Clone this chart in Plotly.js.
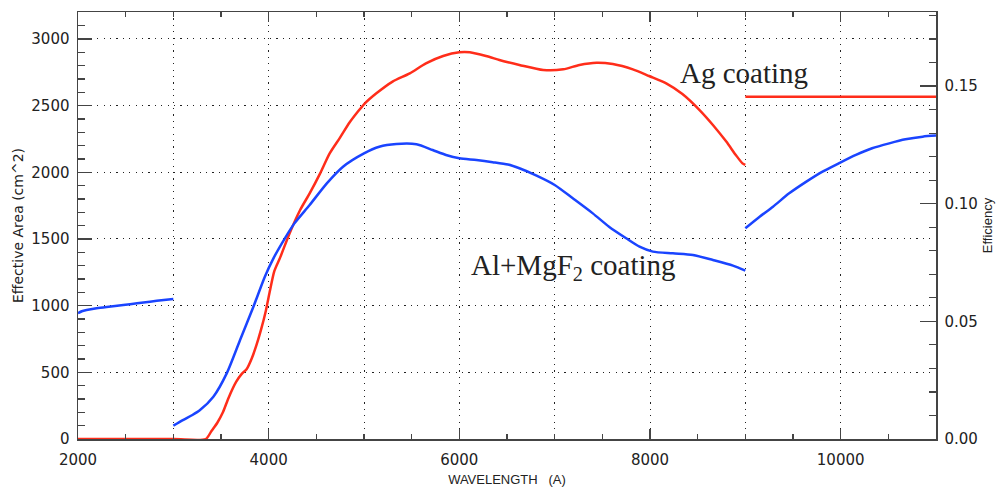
<!DOCTYPE html>
<html>
<head>
<meta charset="utf-8">
<script src="https://cdn.plot.ly/plotly-3.0.1.min.js"></script>
<style>html,body{margin:0;padding:0;background:#fff;}#chart{width:996px;height:487px;}</style>
</head>
<body>
<div id="chart"></div>
<script>
// Ag coating effective area (cm^2) vs wavelength (A); null = gap between segments
var agWave = [2000, 3000, 3340, 3400, 3460, 3520, 3580, 3660, 3720, 3770, 3820, 3870, 3920, 3970, 4010, 4060, 4120,
  4220, 4330, 4430, 4540, 4640, 4750, 4850, 4930, 5000, 5130, 5300, 5480, 5650, 5830, 6000, 6110, 6280, 6420, 6510,
  6630, 6880, 7090, 7260, 7440, 7610, 7820, 7990, 8170, 8340, 8520, 8660, 8800, 8900, 8970, 9000,
  null, 9000, 11000];
var agArea = [0, 0, 0, 60, 120, 200, 310, 430, 490, 525, 600, 700, 820, 960, 1100, 1260, 1360,
  1543, 1717, 1842, 1992, 2142, 2262, 2375, 2450, 2510, 2592, 2680, 2742, 2817, 2872, 2900, 2900, 2872, 2842, 2825,
  2805, 2767, 2772, 2805, 2822, 2812, 2772, 2722, 2667, 2587, 2467, 2355, 2230, 2130, 2067, 2055,
  null, 2567, 2567];

// Al+MgF2 coating effective area (cm^2) vs wavelength (A)
var alWave = [2000, 2040, 2090, 2195, 2300, 2475, 2620, 2755, 2900, 3000,
  null,
  3000, 3100, 3200, 3280, 3420, 3560, 3700, 3840, 3960, 4050, 4170, 4270, 4430, 4610, 4780, 5000, 5160,
  5340, 5550, 5720, 5860, 6000, 6180, 6350, 6510, 6630, 6810, 7000, 7190, 7400, 7570, 7750, 7890, 8030,
  8240, 8450, 8660, 8870, 9000,
  null,
  9000, 9150, 9290, 9460, 9640, 9810, 9980, 10160, 10330, 10510, 10680, 10860, 11000];
var alArea = [943, 958, 967, 980, 990, 1005, 1018, 1030, 1042, 1050,
  null,
  100, 142, 180, 217, 317, 492, 742, 992, 1217, 1355, 1505, 1617, 1755, 1917, 2042, 2142, 2192,
  2212, 2210, 2167, 2130, 2105, 2092, 2076, 2058, 2030, 1975, 1905, 1805, 1692, 1592, 1505, 1442, 1405,
  1392, 1380, 1342, 1300, 1262,
  null,
  1580, 1667, 1742, 1842, 1930, 2005, 2067, 2130, 2180, 2217, 2247, 2267, 2275];

var xTickVals = [2000, 4000, 6000, 8000, 10000];
var xTickText = ['2000', '4000', '6000', '8000', '10000'];
var labels = [
  {text: 'Ag coating', x: 8988, y: 2745},
  {text: 'Al+MgF<sub>2</sub> coating', x: 7199, y: 1290}
];

var tickFont = {family: 'DejaVu Sans', size: 15, color: '#222'};
var axisCol = '#444';
var gridDash = '1.2px,5.2px';

var traces = [
  {x: agWave, y: agArea, type: 'scatter', mode: 'lines', name: 'Ag',
   line: {color: '#ff2d1a', width: 2.5, shape: 'spline', smoothing: 0.7}, connectgaps: false, showlegend: false},
  {x: alWave, y: alArea, type: 'scatter', mode: 'lines', name: 'Al+MgF2',
   line: {color: '#1a44ff', width: 2.5, shape: 'spline', smoothing: 0.7}, connectgaps: false, showlegend: false},
  // carrier for the efficiency axis and the 1000-A grid axis (no marks)
  {x: [], y: [], type: 'scatter', mode: 'lines', xaxis: 'x2', yaxis: 'y2',
   showlegend: false, hoverinfo: 'skip'}
];

var layout = {
  width: 996, height: 487,
  margin: {l: 78, r: 60, t: 12, b: 48, pad: 0},
  paper_bgcolor: '#fff', plot_bgcolor: '#fff',
  showlegend: false,
  xaxis: {
    range: [2000, 11000], tickmode: 'array', tickvals: xTickVals, ticktext: xTickText,
    ticks: 'inside', ticklen: 10, tickwidth: 1.5, tickcolor: axisCol,
    showline: true, linecolor: axisCol, linewidth: 1.5, mirror: 'ticks',
    showgrid: false, zeroline: false,
    tickfont: tickFont, ticklabelstandoff: 6,
    minor: {dtick: 500, ticks: 'inside', ticklen: 5, tickwidth: 1.2, tickcolor: axisCol, showgrid: false},
    title: {text: 'WAVELENGTH\u00a0\u00a0\u00a0(A)', font: {family: 'Liberation Sans', size: 13, color: '#222'}, standoff: 8}
  },
  xaxis2: {
    range: [2000, 11000], overlaying: 'x', anchor: 'y2', side: 'bottom',
    dtick: 1000, tick0: 0, showgrid: true, gridcolor: '#222', gridwidth: 1, griddash: gridDash,
    showticklabels: false, ticks: '', showline: false, zeroline: false
  },
  yaxis: {
    range: [0, 3202], dtick: 500, tick0: 0,
    ticks: 'inside', ticklen: 14, tickwidth: 1.5, tickcolor: axisCol,
    showline: true, linecolor: axisCol, linewidth: 1.5, mirror: false,
    showgrid: true, gridcolor: '#222', gridwidth: 1, griddash: gridDash, zeroline: false,
    tickfont: tickFont, ticklabelstandoff: 4,
    minor: {dtick: 100, ticks: 'inside', ticklen: 7, tickwidth: 1.2, tickcolor: axisCol, showgrid: false},
    title: {text: 'Effective Area (cm^2)', font: {family: 'DejaVu Sans', size: 14, color: '#222'}, standoff: 4}
  },
  yaxis2: {
    range: [0, 0.1815], dtick: 0.05, tick0: 0, tickformat: '.2f', overlaying: 'y', side: 'right', anchor: 'x2',
    ticks: 'inside', ticklen: 16, tickwidth: 1.5, tickcolor: axisCol,
    showline: true, linecolor: axisCol, linewidth: 1.5,
    showgrid: false, zeroline: false,
    tickfont: tickFont, ticklabelstandoff: 4,
    minor: {dtick: 0.01, ticks: 'inside', ticklen: 7, tickwidth: 1.2, tickcolor: axisCol, showgrid: false},
    title: {text: 'Efficiency', font: {family: 'Liberation Sans', size: 13, color: '#222'}, standoff: 6}
  },
  annotations: labels.map(function (l) {
    return {text: l.text, x: l.x, y: l.y, xref: 'x', yref: 'y', showarrow: false,
      xanchor: 'center', yanchor: 'middle',
      font: {family: 'Liberation Serif', size: 29, color: '#222'}};
  })
};

Plotly.newPlot('chart', traces, layout, {displayModeBar: false, staticPlot: true});
</script>
</body>
</html>
